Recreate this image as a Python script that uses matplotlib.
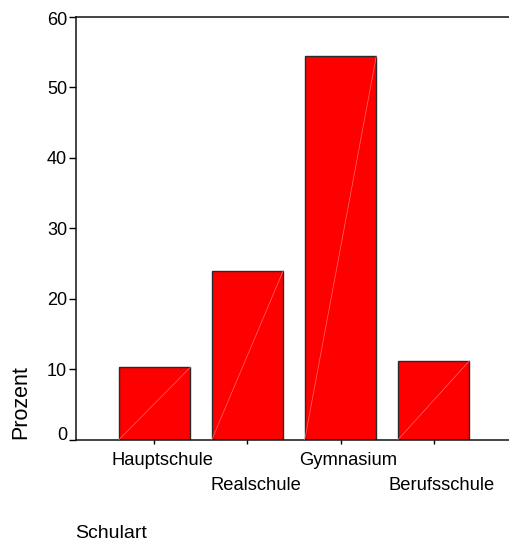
import matplotlib
matplotlib.use("Agg")
import matplotlib.pyplot as plt
from matplotlib.transforms import ScaledTranslation

categories = ["Hauptschule", "Realschule", "Gymnasium", "Berufsschule"]
percent = [10.3, 24.0, 54.4, 11.2]
yticks = [0, 10, 20, 30, 40, 50, 60]

plt.rcParams['font.family'] = ['Liberation Sans', 'DejaVu Sans']

W, H, DPI = 509, 543, 100
fig = plt.figure(figsize=(W / DPI, H / DPI), dpi=DPI)
left, right, bottom, top = 76, 512, 440, 16.5
ax = fig.add_axes([left / W, 1 - bottom / H, (right - left) / W, (bottom - top) / H])

pos = list(range(len(categories)))
bw = 0.77
ax.bar(pos, percent, width=bw, color='#ff0000', edgecolor='#2a2a2a', linewidth=1.0, zorder=2)
# light seam of the bar fill, as in the original rendering
for p, v in zip(pos, percent):
    ax.plot([p - bw / 2, p + bw / 2], [0, v], color='#ff6a6a', linewidth=0.5, zorder=3)

ax.set_xlim(-0.844, 3.844)
ax.set_ylim(0, 60)
ax.set_yticks(yticks)
ax.set_xticks(pos)
ax.set_xticklabels(categories, fontsize=13.2)
ax.tick_params(axis='y', labelsize=13, length=5, width=1, pad=1.5)
ax.tick_params(axis='x', length=3, width=1, pad=5.5)

ax.spines['right'].set_visible(False)
for s in ('left', 'top', 'bottom'):
    ax.spines[s].set_linewidth(1.1)
    ax.spines[s].set_color('#111111')

ticks = ax.xaxis.get_major_ticks()
for i, t in enumerate(ticks):
    if i % 2 == 1:
        t.set_pad(24)
off = ScaledTranslation(8 / DPI, 0, fig.dpi_scale_trans)
for lab in ax.get_xticklabels():
    lab.set_transform(lab.get_transform() + off)

ylabs = ax.get_yticklabels()
ylabs[0].set_transform(ylabs[0].get_transform() + ScaledTranslation(0, 7 / DPI, fig.dpi_scale_trans))
ylabs[-1].set_transform(ylabs[-1].get_transform() + ScaledTranslation(0, -2 / DPI, fig.dpi_scale_trans))

fig.text(21 / W, 1 - 402 / H, "Prozent", rotation=90, ha='center', va='center', fontsize=15.5)
fig.text(75 / W, 1 - 533 / H, "Schulart", ha='left', va='center', fontsize=14)

fig.savefig("out.png", dpi=DPI)
